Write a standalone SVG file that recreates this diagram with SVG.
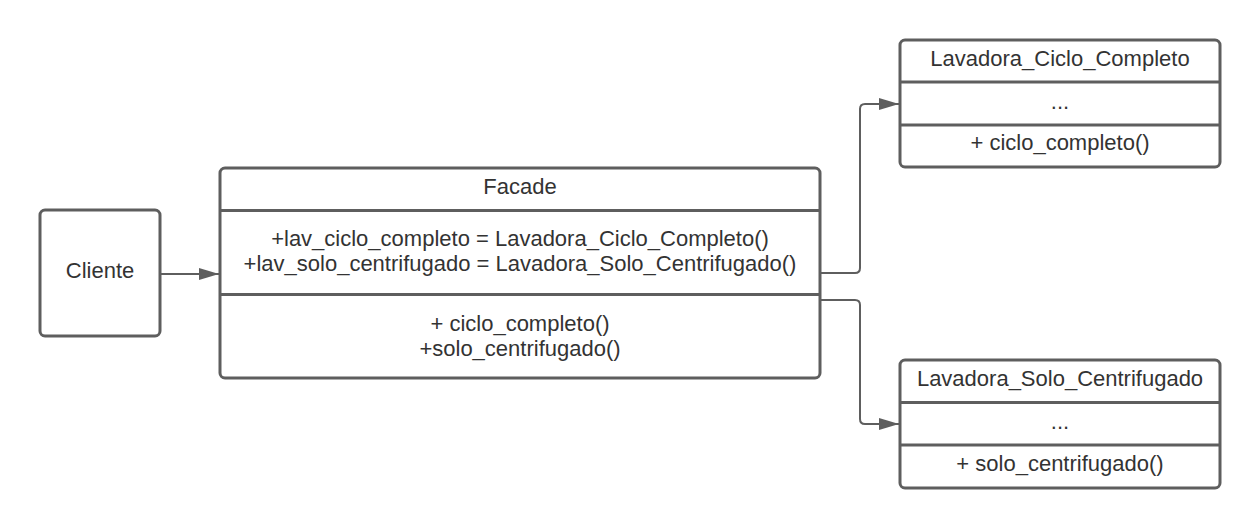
<svg xmlns="http://www.w3.org/2000/svg" width="1260" height="528" viewBox="0 0 1260 528">
<style>
.box{fill:#ffffff;stroke:#5e5e5e;stroke-width:3}
.div{stroke:#5e5e5e;stroke-width:3;fill:none}
.conn{stroke:#5e5e5e;stroke-width:2;fill:none}
text{font-family:"Liberation Sans",Arial,sans-serif;font-size:22px;fill:#333333;text-anchor:middle}
</style>
<defs>
<marker id="arr" viewBox="0 0 20 12" refX="20" refY="6" markerWidth="20" markerHeight="12" markerUnits="userSpaceOnUse" orient="auto">
<path d="M0,0 L20,6 L0,12 Z" fill="#5e5e5e"/>
</marker>
</defs>
<rect width="1260" height="528" fill="#ffffff"/>
<g id="connectors">
<path class="conn" d="M160,274 L219,274" marker-end="url(#arr)"/>
<path class="conn" d="M821,273 L855,273 Q860,273 860,268 L860,109 Q860,104 865,104 L899,104" marker-end="url(#arr)"/>
<path class="conn" d="M821,300 L855,300 Q860,300 860,305 L860,419 Q860,424 865,424 L899,424" marker-end="url(#arr)"/>
</g>
<g id="cliente">
<rect class="box" x="40" y="210" width="120" height="126" rx="5"/>
<text x="100" y="278">Cliente</text>
</g>
<g id="facade">
<rect class="box" x="220" y="168" width="600" height="210" rx="5"/>
<line class="div" x1="220" y1="210.5" x2="820" y2="210.5"/>
<line class="div" x1="220" y1="294.5" x2="820" y2="294.5"/>
<text x="520" y="194">Facade</text>
<text x="520" y="246">+lav_ciclo_completo = Lavadora_Ciclo_Completo()</text>
<text x="520" y="271">+lav_solo_centrifugado = Lavadora_Solo_Centrifugado()</text>
<text x="520" y="331">+ ciclo_completo()</text>
<text x="520" y="356">+solo_centrifugado()</text>
</g>
<g id="lavadora_ciclo_completo">
<rect class="box" x="900" y="40" width="320" height="127" rx="5"/>
<line class="div" x1="900" y1="82" x2="1220" y2="82"/>
<line class="div" x1="900" y1="125" x2="1220" y2="125"/>
<text x="1060" y="66">Lavadora_Ciclo_Completo</text>
<text x="1060" y="109">...</text>
<text x="1060" y="150">+ ciclo_completo()</text>
</g>
<g id="lavadora_solo_centrifugado">
<rect class="box" x="900" y="360" width="320" height="128" rx="5"/>
<line class="div" x1="900" y1="402.5" x2="1220" y2="402.5"/>
<line class="div" x1="900" y1="445" x2="1220" y2="445"/>
<text x="1060" y="386">Lavadora_Solo_Centrifugado</text>
<text x="1060" y="429">...</text>
<text x="1060" y="471">+ solo_centrifugado()</text>
</g>
</svg>
